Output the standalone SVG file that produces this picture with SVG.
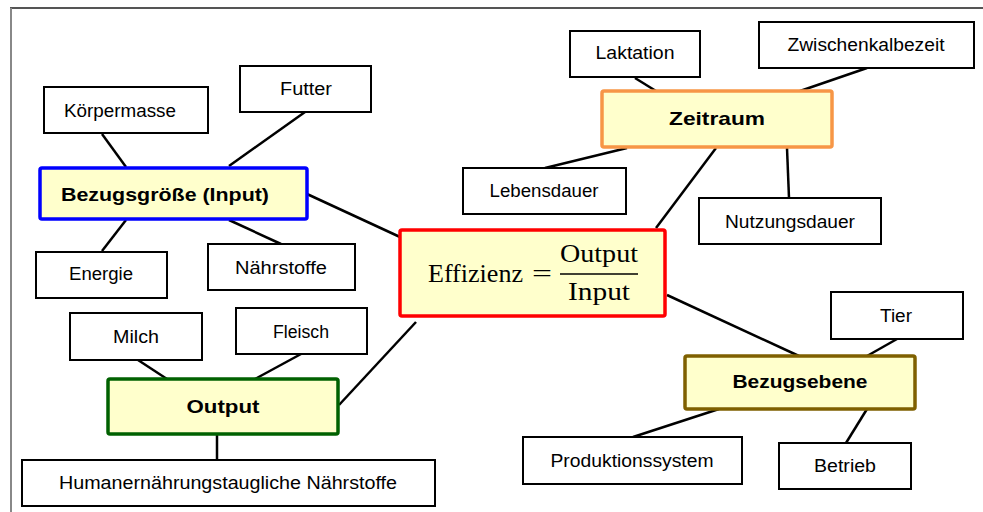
<svg xmlns="http://www.w3.org/2000/svg" width="983" height="512" viewBox="0 0 983 512">
<style>
.box{fill:#fff;stroke:#000;stroke-width:2}
.main{fill:#FFFFCC;stroke-width:3.5}
.t{font-family:"Liberation Sans",Arial,sans-serif;font-size:17.5px;fill:#000;text-anchor:middle}
.b{font-family:"Liberation Sans",Arial,sans-serif;font-size:19px;font-weight:bold;fill:#000;text-anchor:middle}
.m{font-family:"Liberation Serif","Times New Roman",serif;font-size:25px;fill:#000}
.c line{stroke:#000;stroke-width:2.5}
</style>
<rect width="983" height="512" fill="#fff"/>
<line x1="10" y1="8" x2="983" y2="8" stroke="#555" stroke-width="2"/>
<line x1="11" y1="8" x2="11" y2="512" stroke="#888" stroke-width="2"/>
<g class="c" id="connectors">
<line x1="102" y1="134" x2="126" y2="167"/>
<line x1="305" y1="112" x2="229" y2="166"/>
<line x1="307" y1="194" x2="400" y2="237"/>
<line x1="126" y1="220" x2="102" y2="251"/>
<line x1="229" y1="220" x2="281" y2="244"/>
<line x1="635" y1="78" x2="656" y2="91"/>
<line x1="867" y1="68" x2="800" y2="91"/>
<line x1="545" y1="168" x2="627" y2="148"/>
<line x1="716" y1="148" x2="656" y2="228"/>
<line x1="787" y1="148" x2="789" y2="198"/>
<line x1="138" y1="360" x2="167" y2="379"/>
<line x1="301" y1="354" x2="255" y2="379"/>
<line x1="217" y1="434" x2="217" y2="460"/>
<line x1="339" y1="405" x2="416" y2="322"/>
<line x1="667" y1="295" x2="799" y2="356"/>
<line x1="897" y1="339" x2="867" y2="356"/>
<line x1="719" y1="409" x2="633" y2="437"/>
<line x1="867" y1="409" x2="846" y2="443"/>
</g>
<g id="effizienz">
<rect class="main" x="400" y="230" width="265" height="86" rx="2" stroke="#FF0000"/>
<text class="m" x="428" y="282" textLength="95" lengthAdjust="spacingAndGlyphs">Effizienz</text>
<text class="m" x="532" y="282" textLength="20" lengthAdjust="spacingAndGlyphs">=</text>
<text class="m" x="560" y="262" textLength="78" lengthAdjust="spacingAndGlyphs">Output</text>
<line x1="560" y1="274" x2="638" y2="274" stroke="#000" stroke-width="1.5"/>
<text class="m" x="568" y="300" textLength="62" lengthAdjust="spacingAndGlyphs">Input</text>
</g>
<g id="bezugsgroesse">
<rect class="main" x="40" y="168" width="267" height="51" rx="2" stroke="#0000FF"/>
<text class="b" x="165" y="201" textLength="208" lengthAdjust="spacingAndGlyphs">Bezugsgröße (Input)</text>
</g>
<g id="koerpermasse">
<rect class="box" x="44" y="87" width="164" height="46"/>
<text class="t" x="120" y="117" textLength="112" lengthAdjust="spacingAndGlyphs">Körpermasse</text>
</g>
<g id="futter">
<rect class="box" x="240" y="66" width="131" height="46"/>
<text class="t" x="306" y="95" textLength="52" lengthAdjust="spacingAndGlyphs">Futter</text>
</g>
<g id="energie">
<rect class="box" x="36" y="252" width="131" height="46"/>
<text class="t" x="101" y="280" textLength="64" lengthAdjust="spacingAndGlyphs">Energie</text>
</g>
<g id="naehrstoffe">
<rect class="box" x="208" y="244" width="147" height="46"/>
<text class="t" x="281" y="274" textLength="92" lengthAdjust="spacingAndGlyphs">Nährstoffe</text>
</g>
<g id="zeitraum">
<rect class="main" x="602" y="91" width="230" height="56" rx="2" stroke="#F79646"/>
<text class="b" x="717" y="125" textLength="96" lengthAdjust="spacingAndGlyphs">Zeitraum</text>
</g>
<g id="laktation">
<rect class="box" x="570" y="31" width="130" height="46"/>
<text class="t" x="635" y="59" textLength="79" lengthAdjust="spacingAndGlyphs">Laktation</text>
</g>
<g id="zwischenkalbezeit">
<rect class="box" x="759" y="22" width="215" height="46"/>
<text class="t" x="866" y="51" textLength="157" lengthAdjust="spacingAndGlyphs">Zwischenkalbezeit</text>
</g>
<g id="lebensdauer">
<rect class="box" x="463" y="168" width="163" height="46"/>
<text class="t" x="544" y="197" textLength="109" lengthAdjust="spacingAndGlyphs">Lebensdauer</text>
</g>
<g id="nutzungsdauer">
<rect class="box" x="699" y="198" width="182" height="46"/>
<text class="t" x="790" y="228" textLength="130" lengthAdjust="spacingAndGlyphs">Nutzungsdauer</text>
</g>
<g id="output">
<rect class="main" x="108" y="379" width="230" height="55" rx="2" stroke="#006100"/>
<text class="b" x="223" y="413" textLength="73" lengthAdjust="spacingAndGlyphs">Output</text>
</g>
<g id="milch">
<rect class="box" x="70" y="313" width="132" height="47"/>
<text class="t" x="136" y="343" textLength="46" lengthAdjust="spacingAndGlyphs">Milch</text>
</g>
<g id="fleisch">
<rect class="box" x="236" y="308" width="131" height="46"/>
<text class="t" x="301" y="338" textLength="56" lengthAdjust="spacingAndGlyphs">Fleisch</text>
</g>
<g id="human">
<rect class="box" x="22" y="460" width="413" height="46"/>
<text class="t" x="228" y="489" textLength="338" lengthAdjust="spacingAndGlyphs">Humanernährungstaugliche Nährstoffe</text>
</g>
<g id="bezugsebene">
<rect class="main" x="685" y="356" width="230" height="53" rx="2" stroke="#7F6000"/>
<text class="b" x="800" y="388" textLength="135" lengthAdjust="spacingAndGlyphs">Bezugsebene</text>
</g>
<g id="tier">
<rect class="box" x="831" y="292" width="132" height="47"/>
<text class="t" x="896" y="322" textLength="32" lengthAdjust="spacingAndGlyphs">Tier</text>
</g>
<g id="produktionssystem">
<rect class="box" x="523" y="437" width="219" height="47"/>
<text class="t" x="632" y="467" textLength="163" lengthAdjust="spacingAndGlyphs">Produktionssystem</text>
</g>
<g id="betrieb">
<rect class="box" x="779" y="443" width="132" height="46"/>
<text class="t" x="845" y="472" textLength="62" lengthAdjust="spacingAndGlyphs">Betrieb</text>
</g>
</svg>
